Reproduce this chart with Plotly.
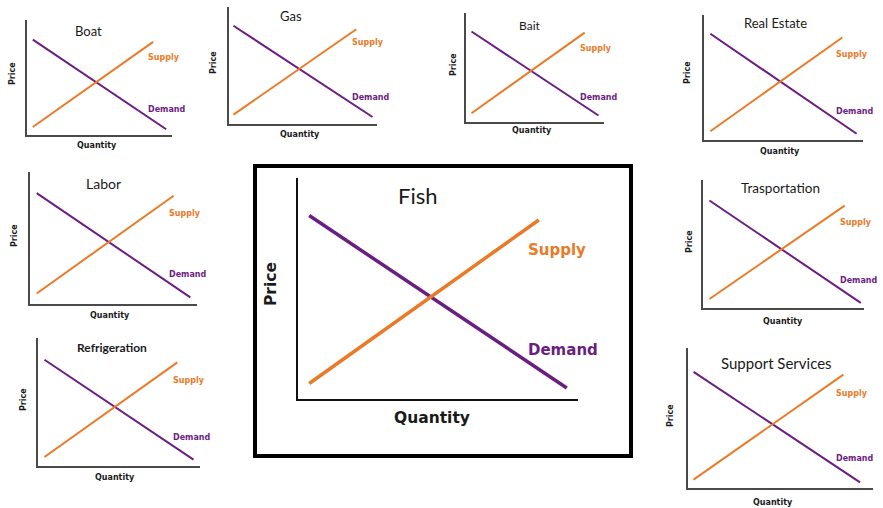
import plotly.graph_objects as go

W, H = 883, 508

# ---------------- data (quantity / price on 0-100 scales) ----------------
panels = ["Boat", "Gas", "Bait", "Real Estate", "Labor", "Refrigeration",
          "Trasportation", "Support Services", "Fish"]
demand_q = [[4, 96], [3, 97], [4, 96], [4, 96], [4, 96], [4, 96], [4, 98], [3, 93], [4, 96]]
demand_p = [[83, 5], [84, 6], [83, 6], [85, 5], [84, 5], [83, 5], [84, 4], [83, 4], [83, 5]]
supply_q = [[4, 87], [3, 86], [4, 86], [4, 87], [4, 86], [4, 86], [4, 88], [3, 84], [4, 86]]
supply_p = [[7, 81], [8, 81], [8, 82], [7, 82], [8, 82], [7, 81], [7, 80], [6, 81], [7, 81]]
x_label = "Quantity"
y_label = "Price"
supply_label = "Supply"
demand_label = "Demand"

# ---------------- layout (pixels) ----------------
# axis box: x_left, x_right, y_top, y_bottom
boxes = [(27, 172, 20, 135), (229, 377, 7, 124), (466, 604, 13, 122), (704, 863, 15, 140),
         (30, 197, 172, 304), (38, 200, 338, 466), (703, 864, 180, 308), (688, 873, 348, 488),
         (298, 578, 178, 399)]
title_pos = [(88, 31), (291, 16), (530, 25), (775, 23), (103, 183), (112, 347), (780, 188),
             (776, 363), (417, 195)]
title_size = [13, 13, 12, 13, 14, 12, 13.5, 15, 22]
title_bold = [False, False, False, False, False, True, False, False, False]
supply_pos = [(146, 57), (350, 43), (578, 48), (834, 54), (167, 214), (171, 380), (838, 222),
              (834, 393), (526, 250)]
demand_pos = [(146, 109), (350, 97), (578, 97), (834, 111), (167, 274), (171, 437), (838, 280),
              (834, 458), (526, 350)]
price_pos = [(13, 74), (213, 63), (453, 64), (688, 73), (14, 235), (23, 400), (689, 242),
             (670, 416), (271, 284)]
qty_pos = [(97, 146), (300, 134), (532, 130), (780, 151), (110, 315), (115, 477), (783, 321),
           (773, 502), (432, 418)]

ORANGE = "#EA7A28"
PURPLE = "#6B1E82"


def px(x):
    return min(max(x / W, 0), 1)


def py(y):
    return min(max(1 - y / H, 0), 1)


fig = go.Figure()
layout = dict(width=W, height=H, margin=dict(l=0, r=0, t=0, b=0),
              paper_bgcolor="white", plot_bgcolor="white", showlegend=False)
annotations = []

for i, name in enumerate(panels):
    big = name == "Fish"
    n = "" if i == 0 else str(i + 1)
    xl, xr, yt, yb = boxes[i]
    axis_col = "#111111" if big else "#4a4a4a"
    axis_w = 2 if big else 1.5
    common = dict(showgrid=False, zeroline=False, showticklabels=False, ticks="",
                  showline=True, linecolor=axis_col, linewidth=axis_w, fixedrange=True)
    layout["xaxis" + n] = dict(domain=[px(xl), px(xr)], range=[0, 100],
                               anchor="y" + n, **common)
    layout["yaxis" + n] = dict(domain=[py(yb), py(yt)], range=[0, 100],
                               anchor="x" + n, **common)
    lw = 3.5 if big else 2
    fig.add_trace(go.Scatter(x=demand_q[i], y=demand_p[i], mode="lines",
                             line=dict(color=PURPLE, width=lw),
                             xaxis="x" + n, yaxis="y" + n, hoverinfo="skip"))
    fig.add_trace(go.Scatter(x=supply_q[i], y=supply_p[i], mode="lines",
                             line=dict(color=ORANGE, width=lw),
                             xaxis="x" + n, yaxis="y" + n, hoverinfo="skip"))

    lab_size = 15 if big else 8
    ax_size = 15.5 if big else 8
    tx, ty = title_pos[i]
    annotations.append(dict(
        text=("<b>%s</b>" % name) if title_bold[i] else name,
        x=px(tx), y=py(ty), xref="paper", yref="paper", showarrow=False,
        xanchor="center", yanchor="middle",
        font=dict(family="Lato", size=title_size[i], color="#1a1a1a")))
    sx, sy = supply_pos[i]
    annotations.append(dict(
        text="<b>%s</b>" % supply_label, x=px(sx), y=py(sy), xref="paper", yref="paper",
        showarrow=False, xanchor="left", yanchor="middle",
        font=dict(family="DejaVu Sans", size=lab_size, color=ORANGE)))
    dx, dy = demand_pos[i]
    annotations.append(dict(
        text="<b>%s</b>" % demand_label, x=px(dx), y=py(dy), xref="paper", yref="paper",
        showarrow=False, xanchor="left", yanchor="middle",
        font=dict(family="DejaVu Sans", size=lab_size, color=PURPLE)))
    prx, pry = price_pos[i]
    annotations.append(dict(
        text="<b>%s</b>" % y_label, x=px(prx), y=py(pry), xref="paper", yref="paper",
        showarrow=False, xanchor="center", yanchor="middle", textangle=-90,
        font=dict(family="DejaVu Sans", size=ax_size, color="#1a1a1a")))
    qx, qy = qty_pos[i]
    annotations.append(dict(
        text="<b>%s</b>" % x_label, x=px(qx), y=py(qy), xref="paper", yref="paper",
        showarrow=False, xanchor="center", yanchor="middle",
        font=dict(family="DejaVu Sans", size=ax_size, color="#1a1a1a")))

layout["annotations"] = annotations
layout["shapes"] = [dict(type="rect", xref="paper", yref="paper",
                         x0=px(255), x1=px(631), y0=py(456), y1=py(166),
                         line=dict(color="black", width=4))]
fig.update_layout(**layout)
fig.write_html("out.html", config={"displayModeBar": False},
               post_script="document.body.style.margin='0px';document.body.style.overflow='hidden';")
